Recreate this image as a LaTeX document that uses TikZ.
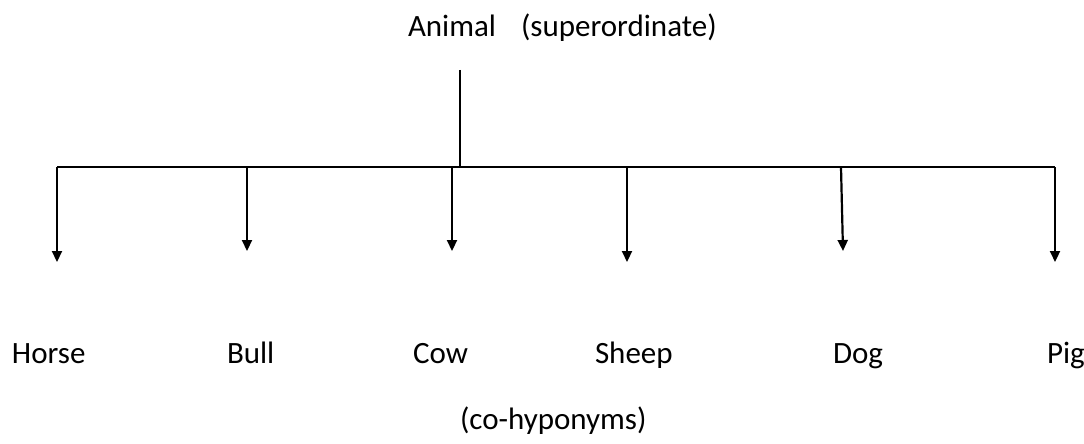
\documentclass[tikz,border=0pt]{standalone}
\usepackage{fontspec}
\setmainfont{Carlito}
\usetikzlibrary{arrows.meta}
\tikzset{
  lbl/.style={anchor=base west, inner sep=0pt, outer sep=0pt, font=\fontsize{31}{37}\selectfont},
  trunk/.style={line width=1.3pt},
  bar/.style={line width=1.6pt},
  arr/.style={line width=2.2pt, -{Triangle[width=10pt,length=11pt]}}
}
\begin{document}
\begin{tikzpicture}[x=1pt,y=-1pt]
\useasboundingbox (0,0) rectangle (1084,444);
% texts
\node[lbl] (top) at (408,37) {Animal\hspace{25pt}(superordinate)};
\node[lbl] (horse) at (12,363) {Horse};
\node[lbl] (bull) at (227,363) {Bull};
\node[lbl] (cow) at (413,363) {Cow};
\node[lbl] (sheep) at (595,363) {Sheep};
\node[lbl] (dog) at (833,363) {Dog};
\node[lbl] (pig) at (1047,363) {Pig};
\node[lbl] (co) at (460,429) {(co-hyponyms)};
% junctions
\coordinate (t0) at (460,70);
\coordinate (t1) at (460,167);
\coordinate (b0) at (57,167);
\coordinate (b1) at (247,167);
\coordinate (b2) at (452,167);
\coordinate (b3) at (627,167);
\coordinate (b4) at (841,167);
\coordinate (b5) at (1055,167);
\coordinate (e0) at (57,262);
\coordinate (e1) at (247,251);
\coordinate (e2) at (452,251);
\coordinate (e3) at (627,262);
\coordinate (e4) at (843,251);
\coordinate (e5) at (1055,262);
\draw[trunk] (t0) -- (t1);
\draw[bar] (b0) -- (b5);
\foreach \i in {0,...,5} {\draw[arr] (b\i) -- (e\i);}
\end{tikzpicture}
\end{document}
